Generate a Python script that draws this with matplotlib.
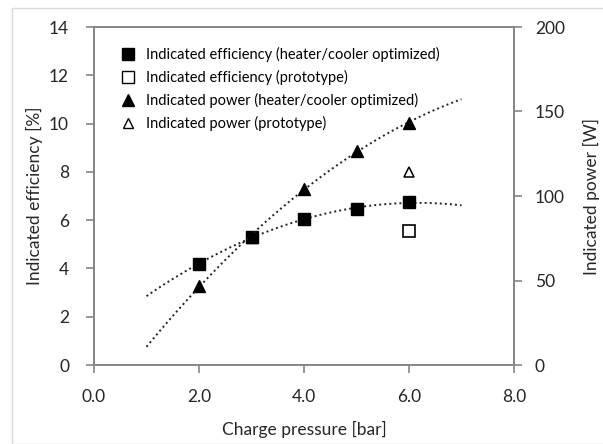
import numpy as np
from matplotlib import pyplot as plt
from matplotlib.patches import Rectangle
from matplotlib.lines import Line2D

plt.rcParams['font.family'] = ['Lato', 'DejaVu Sans']

pressure = [2.0, 3.0, 4.0, 5.0, 6.0]
eff_opt = [4.18, 5.31, 6.05, 6.46, 6.74]
power_opt = [46.6, 76.0, 104.0, 126.6, 143.4]
proto_pressure = [6.0]
eff_proto = [5.56]
power_proto = [114.0]

fig = plt.figure(figsize=(6.03, 4.44), dpi=100)
fig.patches.append(Rectangle((12/603, 0), 1, 1 - 8/444, transform=fig.transFigure,
                             fill=False, edgecolor='#d9d9d9', lw=1))
ax = fig.add_axes([94/603, 79/444, 420/603, 338/444])
ax2 = ax.twinx()

grey = '#868686'
txt = '#262626'
dot = (0, (1, 1.6))

# trendlines (2nd order fit, like excel)
xf = np.linspace(1, 7, 100)
c1 = np.polyfit(pressure, eff_opt, 2)
ax.plot(xf, np.polyval(c1, xf), color='#222222', ls=dot, lw=1.4)
c2 = np.polyfit(pressure, power_opt, 2)
ax2.plot(xf, np.polyval(c2, xf), color='#222222', ls=dot, lw=1.4)

ax.plot(pressure, eff_opt, 's', color='black', ms=9, zorder=5)
ax.plot(proto_pressure, eff_proto, 's', mfc='white', mec='black', mew=1.2, ms=8.5, zorder=5)
ax2.plot(pressure, power_opt, '^', color='black', ms=8.5, zorder=5)
ax2.plot(proto_pressure, power_proto, '^', mfc='white', mec='black', mew=1.1, ms=7.5, zorder=5)

ax.set_xlim(0, 8)
ax.set_ylim(0, 14)
ax2.set_ylim(0, 200)
ax.set_xticks([0, 2, 4, 6, 8])
ax.set_xticklabels(['0.0', '2.0', '4.0', '6.0', '8.0'])
ax.set_yticks(range(0, 15, 2))
ax2.set_yticks(range(0, 201, 50))

for a in (ax, ax2):
    for s in a.spines.values():
        s.set_color(grey)
        s.set_linewidth(1.2)
    a.tick_params(colors=grey, labelcolor=txt, labelsize=12.5, length=6, width=1.2, direction='out')
ax.tick_params(axis='x', pad=11)
ax.tick_params(axis='y', pad=12)
ax2.tick_params(axis='y', pad=9)

ax.set_xlabel('Charge pressure [bar]', fontsize=12.5, color=txt, labelpad=12)
ax.set_ylabel('Indicated efficiency [%]', fontsize=12.5, color=txt, labelpad=4)
ax2.set_ylabel('Indicated power [W]', fontsize=12.5, color=txt, labelpad=13)

handles = [
    Line2D([], [], marker='s', ls='none', color='black', ms=8),
    Line2D([], [], marker='s', ls='none', mfc='white', mec='black', ms=8),
    Line2D([], [], marker='^', ls='none', color='black', ms=8),
    Line2D([], [], marker='^', ls='none', mfc='white', mec='black', ms=7),
]
labels = ['Indicated efficiency (heater/cooler optimized)',
          'Indicated efficiency (prototype)',
          'Indicated power (heater/cooler optimized)',
          'Indicated power (prototype)']
ax2.legend(handles, labels, loc='upper left', bbox_to_anchor=(0.03, 0.98), frameon=False,
           fontsize=10.5, handletextpad=0.6, labelspacing=0.55, handlelength=1.2)

fig.savefig('out.png', dpi=100)
